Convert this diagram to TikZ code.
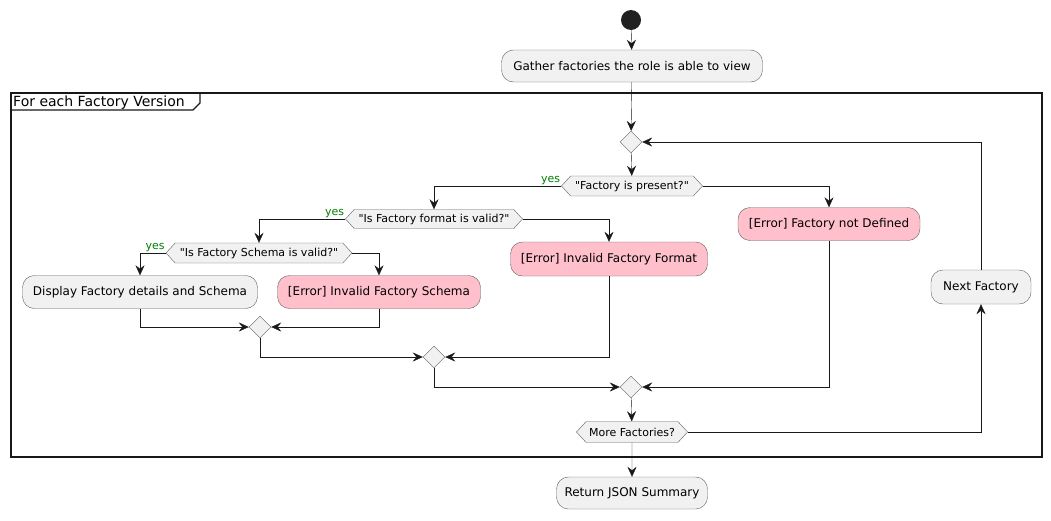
\documentclass[tikz,border=0pt]{standalone}
\usepackage{fontspec}
\setmainfont{DejaVu Sans}[Ligatures=TeXReset]
\usetikzlibrary{arrows.meta,shapes.geometric,shapes.symbols}

\definecolor{actfill}{HTML}{F1F1F1}
\definecolor{errfill}{HTML}{FFC0CB}
\definecolor{edge}{HTML}{181818}
\definecolor{rim}{HTML}{5F5F5F}
\definecolor{yesgreen}{HTML}{008000}

\begin{document}
\begin{tikzpicture}[x=1pt,y=-1pt,
  font=\fontsize{12}{14}\selectfont,
  act/.style={draw=rim, fill=actfill, rounded corners=12pt, inner sep=2pt},
  err/.style={act, fill=errfill},
  cond/.style={draw=rim, fill=actfill, signal, signal to=east and west,
    signal pointer angle=95, inner sep=1pt, font=\fontsize{11}{13}\selectfont},
  merge/.style={draw=rim, fill=actfill, diamond, minimum width=22pt,
    minimum height=22pt, inner sep=0pt},
  flow/.style={draw=edge, -{Stealth[length=10pt,width=9pt,inset=3.5pt]}},
  yes/.style={text=yesgreen, font=\fontsize{11}{13}\selectfont, inner sep=1pt}]
  \useasboundingbox (0,0) rectangle (1051,520);

  % loop frame
  \draw[edge, line width=1.4pt] (11,93) rectangle (1042,457);
  \draw[edge, line width=1.2pt] (11,110) -- (193,110) -- (200,103) -- (200,93);
  \node[anchor=west, inner sep=0pt, font=\fontsize{14}{16}\selectfont] (looplbl) at (13,102.5) {For each Factory Version};

  \node[circle, fill=black!87, minimum size=20pt, inner sep=0pt] (start) at (631,20) {};
  \node[act, minimum width=261pt, minimum height=32pt] (gather) at (632,66) {Gather factories the role is able to view};
  \node[merge] (m0) at (631,142) {};
  \node[cond, minimum width=141pt, minimum height=20pt] (present) at (632,186) {"Factory is present?"};
  \node[cond, minimum width=177pt, minimum height=19pt] (fmt) at (434,219) {"Is Factory format is valid?"};
  \node[err, minimum width=182pt, minimum height=33pt] (notdef) at (829,224) {[Error] Factory not Defined};
  \node[cond, minimum width=186pt, minimum height=20pt] (schema) at (259,253) {"Is Factory Schema is valid?"};
  \node[err, minimum width=197pt, minimum height=34pt] (badfmt) at (609,259) {[Error] Invalid Factory Format};
  \node[act, minimum width=235pt, minimum height=33pt] (display) at (140,292) {Display Factory details and Schema};
  \node[err, minimum width=203pt, minimum height=33pt] (badschema) at (379,292) {[Error] Invalid Factory Schema};
  \node[merge] (m1) at (260,327) {};
  \node[merge] (m2) at (434,357) {};
  \node[merge] (m3) at (631,387) {};
  \node[cond, minimum width=111pt, minimum height=21pt] (more) at (632,432) {More Factories?};
  \node[act, minimum width=100pt, minimum height=34pt] (next) at (981,287) {Next Factory};
  \node[act, minimum width=151pt, minimum height=32pt] (ret) at (632,493) {Return JSON Summary};

  \draw[flow] (start) -- (gather);
  \draw[flow] (gather) -- (m0);
  \draw[flow] (m0) -- (present);
  \draw[flow] (present.west) -| (fmt.north);
  \node[yes, above left] (yes1) at (present.west) {yes};
  \draw[flow] (present.east) -| (notdef.north);
  \draw[flow] (fmt.west) -| (schema.north);
  \node[yes, above left] (yes2) at (fmt.west) {yes};
  \draw[flow] (fmt.east) -| (badfmt.north);
  \draw[flow] (schema.west) -| (display.north);
  \node[yes, above left] (yes3) at (schema.west) {yes};
  \draw[flow] (schema.east) -| (badschema.north);
  \draw[flow] (display.south) |- (m1.west);
  \draw[flow] (badschema.south) |- (m1.east);
  \draw[flow] (m1.south) |- (m2.west);
  \draw[flow] (badfmt.south) |- (m2.east);
  \draw[flow] (m2.south) |- (m3.west);
  \draw[flow] (notdef.south) |- (m3.east);
  \draw[flow] (m3) -- (more);
  \draw[flow] (more.east) -| (next.south);
  \draw[flow] (next.north) |- (m0.east);
  \draw[flow] (more) -- (ret);
\end{tikzpicture}
\end{document}
